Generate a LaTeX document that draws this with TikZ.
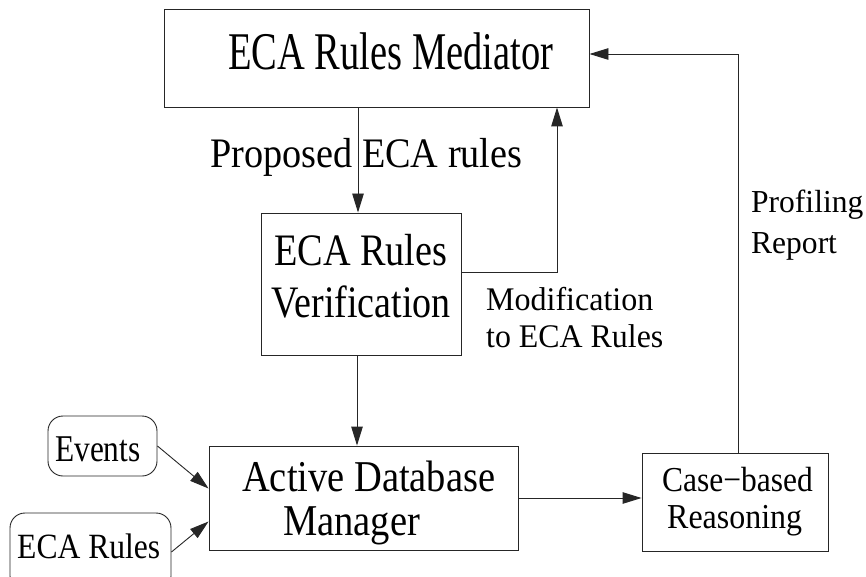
\documentclass[tikz,border=0pt]{standalone}
\usepackage{fontspec}
\setmainfont{Liberation Serif}
\usetikzlibrary{arrows.meta}
\newcommand{\tx}[3]{\scalebox{#2}[1]{\fontsize{#1pt}{#1pt}\selectfont #3}}
\begin{document}
\begin{tikzpicture}[x=1pt,y=-1pt,
  box/.style={draw=black!85, line width=0.9pt, rectangle, inner sep=0pt},
  rbox/.style={box, rounded corners=15pt},
  lbl/.style={inner sep=0pt, anchor=base west},
  arr/.style={draw=black!85, line width=0.9pt, -{Triangle[length=19pt,width=11.5pt]}}]
\clip (0,0) rectangle (866,577);
% boxes
\node[box, minimum width=425pt, minimum height=98pt] (med) at (376.5,58) {};
\node[box, minimum width=200pt, minimum height=142pt] (ver) at (361,284) {};
\node[box, minimum width=309pt, minimum height=104pt] (adm) at (363.5,498) {};
\node[box, minimum width=186pt, minimum height=98pt] (cbr) at (735,502) {};
\node[rbox, minimum width=109pt, minimum height=60pt] (ev) at (102.5,446) {};
\node[rbox, minimum width=161pt, minimum height=78pt] (er) at (90.5,552) {};
% texts
\node[lbl] (tmed) at (228,70) {\tx{53}{0.726}{ECA Rules Mediator}};
\node[lbl] (tprop) at (210,168) {\tx{42}{0.91}{Proposed ECA rules}};
\node[lbl] (tver1) at (274,265) {\tx{45}{0.85}{ECA Rules}};
\node[lbl] (tver2) at (271,317) {\tx{45}{0.845}{Verification}};
\node[lbl] (tmod1) at (486,310) {\tx{33}{0.97}{Modification}};
\node[lbl] (tmod2) at (486,347) {\tx{33}{0.966}{to ECA Rules}};
\node[lbl] (tpro1) at (751,213) {\tx{32}{0.985}{Profiling}};
\node[lbl] (tpro2) at (751,253) {\tx{32}{0.985}{Report}};
\node[lbl] (tcbr1) at (662,491) {\tx{35}{0.90}{Case−based}};
\node[lbl] (tcbr2) at (667,528) {\tx{35}{0.913}{Reasoning}};
\node[lbl] (tadm1) at (242,491) {\tx{44}{0.874}{Active Database}};
\node[lbl] (tadm2) at (283,535) {\tx{44}{0.876}{Manager}};
\node[lbl] (tev) at (55,461) {\tx{37.8}{0.83}{Events}};
\node[lbl] (ter) at (17,558) {\tx{35.5}{0.89}{ECA Rules}};
% connectors
\draw[arr] ([xshift=-18.5pt]med.south) -- ([xshift=-3pt]ver.north);
\draw[arr] ([xshift=-4pt]ver.south) -- ([xshift=-6.5pt]adm.north);
\draw[arr] ([yshift=12pt]ver.east) -| ([xshift=180.5pt]med.south);
\draw[arr] (adm.east) -- (adm.east -| cbr.west);
\draw[arr] ([xshift=3pt]cbr.north) |- ([yshift=4pt]med.east);
\draw[arr] (ev.east) -- ([yshift=9.5pt]adm.west);
\draw[arr] (er.east) -- ([yshift=-23.5pt]adm.west);
\end{tikzpicture}
\end{document}
